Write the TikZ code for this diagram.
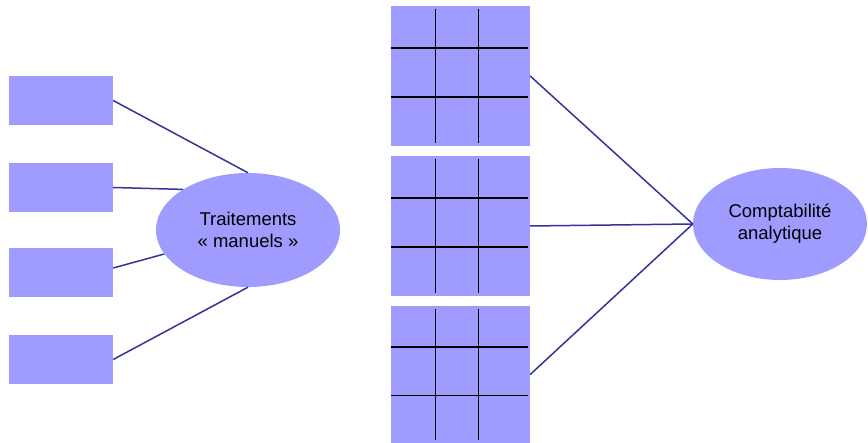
\documentclass[tikz,border=0pt]{standalone}
\usepackage{fontspec}
\setmainfont{Liberation Sans}
\usetikzlibrary{shapes.geometric,calc}
\definecolor{lilas}{RGB}{160,156,255}
\definecolor{trait}{RGB}{51,51,153}

\begin{document}
\begin{tikzpicture}[
    x=1bp, y=1bp,
    font=\fontsize{18.5bp}{22bp}\selectfont,
    box/.style={fill=lilas, inner sep=0pt, minimum width=104bp, minimum height=49bp},
    tableau/.style={fill=lilas, inner sep=0pt, minimum width=139bp, minimum height=140bp},
    bulle/.style={ellipse, fill=lilas, inner sep=0pt, align=center},
    link/.style={draw=trait, line width=1.5bp},
    gridline/.style={draw=black, line width=1.2bp}
]
\useasboundingbox (0,0) rectangle (868,443);

\node[box] (src1) at (61,342.5) {};
\node[box] (src2) at (61,255.5) {};
\node[box] (src3) at (61,170) {};
\node[box] (src4) at (61,83.5) {};
\node[bulle, minimum width=184bp, minimum height=114bp] (manuel) at (248,213) {Traitements\\« manuels »};

\node[tableau] (tab1) at (460.5,367) {};
\node[tableau] (tab2) at (460.5,217) {};
\node[tableau, minimum height=137bp] (tab3) at (460.5,68.5) {};
\node[bulle, minimum width=174bp, minimum height=112bp] (compta) at (780,219) {Comptabilité\\analytique};

\foreach \t in {tab1,tab2,tab3}{
  \foreach \f in {0.32,0.63}{
    \draw[gridline] ($(\t.north west)!\f!(\t.north east)+(0,-3)$) -- ($(\t.south west)!\f!(\t.south east)+(0,3)$);
  }
  \foreach \f in {0.3,0.65}{
    \draw[gridline] ($(\t.north west)!\f!(\t.south west)$) -- ($(\t.north east)!\f!(\t.south east)+(-2,0)$);
  }
}

\draw[link] (src1.east) -- (manuel.north);
\draw[link] (src2.east) -- (manuel.148);
\draw[link] ([yshift=5bp]src3.east) -- (manuel.196);
\draw[link] (src4.east) -- (manuel.south);

\draw[link] (tab1.east) -- (compta.west);
\draw[link] (tab2.east) -- (compta.west);
\draw[link] (tab3.east) -- (compta.west);
\end{tikzpicture}
\end{document}
